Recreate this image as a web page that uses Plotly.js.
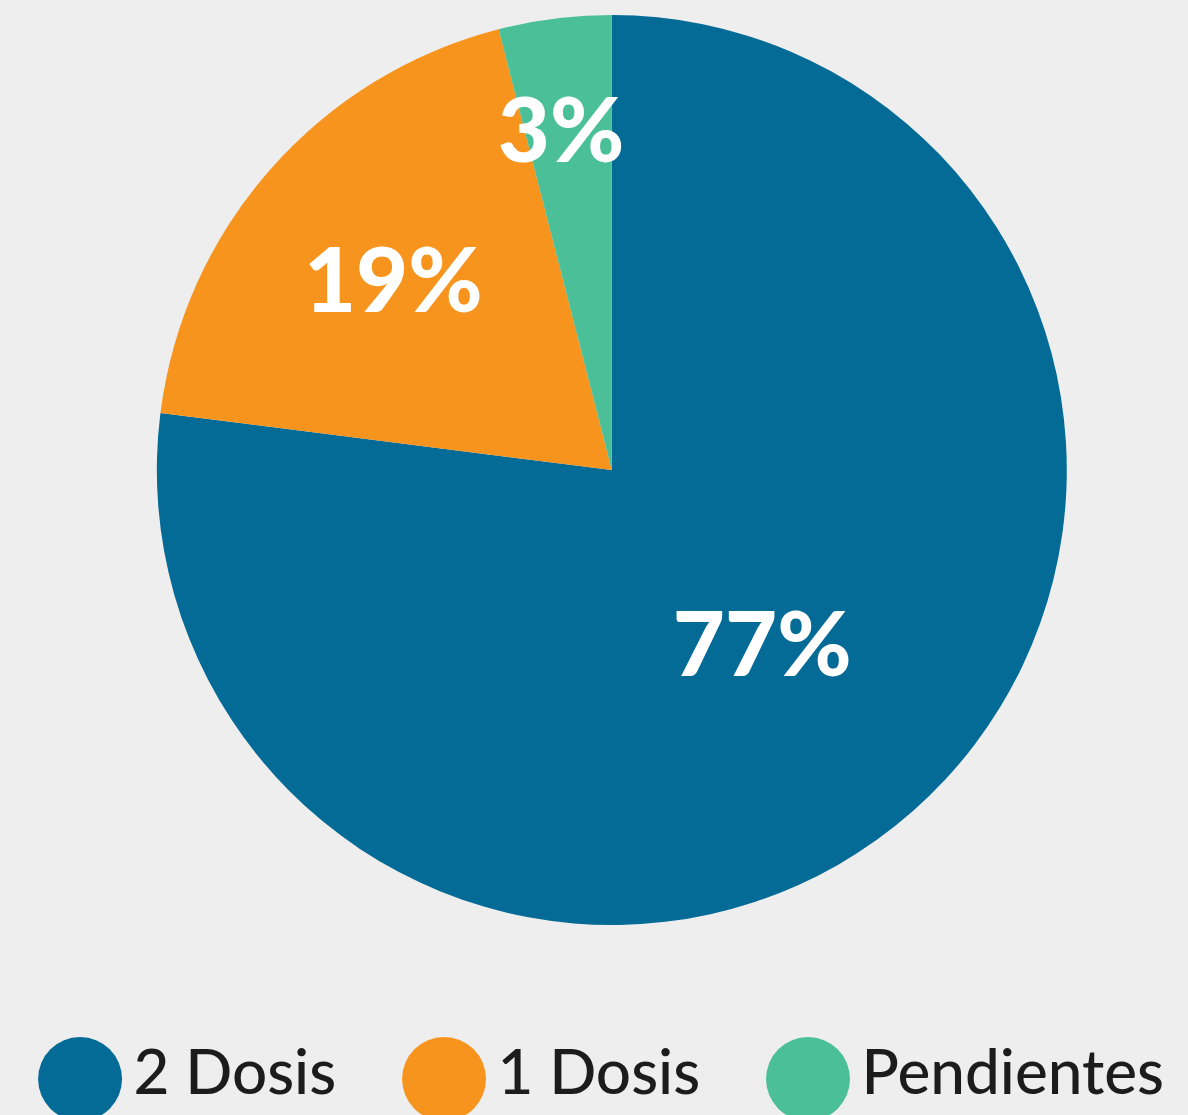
<!DOCTYPE html>
<html>
<head>
<meta charset="utf-8">
<script src="https://cdn.plot.ly/plotly-3.0.1.min.js"></script>
<style>
  html, body { margin: 0; padding: 0; background: #eeeeee; }
  #chart { width: 1188px; height: 1115px; }
</style>
</head>
<body>
<div id="chart"></div>
<script>
const categories = ["2 Dosis", "1 Dosis", "Pendientes"];
const values = [77, 19, 4];
const sliceLabels = ["77%", "19%", " <br>3%"];
const colors = ["#046a96", "#f7941d", "#4bbf98"];
const legendY = [0, 0, 0];

const pie = {
  type: "pie",
  labels: categories,
  values: values,
  text: sliceLabels,
  textinfo: "text",
  textposition: "inside",
  insidetextorientation: "horizontal",
  sort: false,
  direction: "clockwise",
  rotation: 0,
  marker: { colors: colors, line: { width: 0 } },
  insidetextfont: { family: "Lato, sans-serif", size: 90, color: "#ffffff", weight: 900 },
  domain: { x: [0.132, 0.898], y: [0.1704, 0.9865] },
  showlegend: false,
  hoverinfo: "label+percent"
};

const legendTrace = {
  type: "scatter",
  mode: "markers+text",
  x: categories,
  y: legendY,
  text: categories,
  textposition: "middle right",
  marker: { size: 84, color: colors, line: { width: 0 } },
  textfont: { family: "Lato, sans-serif", size: 62, color: "#1c1c1c", weight: 500 },
  cliponaxis: false,
  showlegend: false,
  hoverinfo: "skip",
  xaxis: "x",
  yaxis: "y"
};

const layout = {
  width: 1188,
  height: 1115,
  margin: { l: 0, r: 0, t: 0, b: 0 },
  paper_bgcolor: "#eeeeee",
  plot_bgcolor: "rgba(0,0,0,0)",
  showlegend: false,
  uniformtext: { mode: "show", minsize: 90 },
  xaxis: { domain: [0, 1], range: [-0.22, 3.044], visible: false, fixedrange: true },
  yaxis: { domain: [0, 0.0646], range: [-1, 1], visible: false, fixedrange: true }
};

Plotly.newPlot("chart", [pie, legendTrace], layout, { displayModeBar: false, staticPlot: true });
</script>
</body>
</html>
